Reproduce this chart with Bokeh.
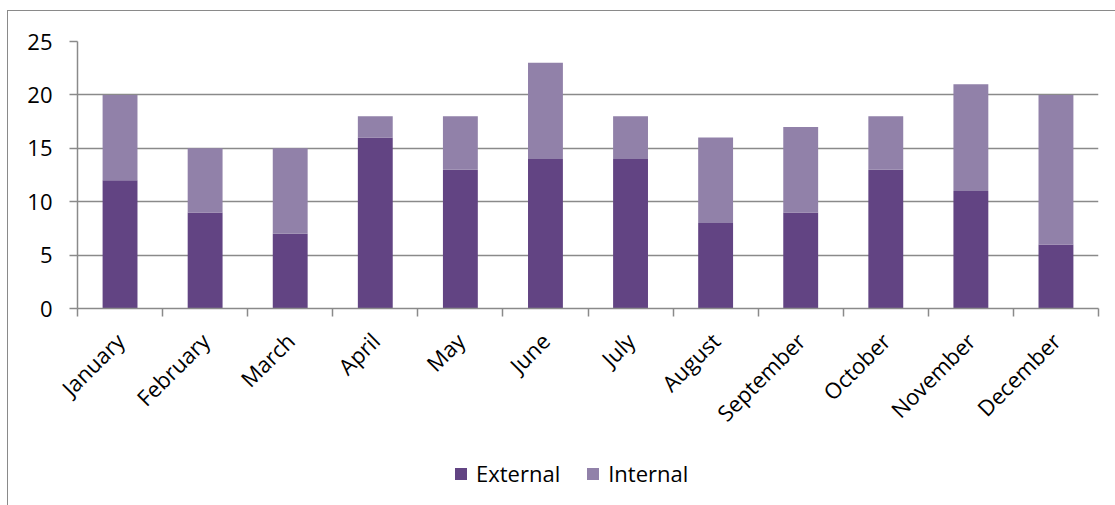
from bokeh.plotting import figure
from bokeh.models import ColumnDataSource, Range1d, FixedTicker, Legend, LegendItem
from bokeh.layouts import column
from bokeh.embed import file_html
from bokeh.resources import INLINE
import math

months = ["January", "February", "March", "April", "May", "June", "July",
          "August", "September", "October", "November", "December"]
external = [12, 9, 7, 16, 13, 14, 14, 8, 9, 13, 11, 6]
internal = [8, 6, 8, 2, 5, 9, 4, 8, 8, 5, 10, 14]
y_ticks = [0, 5, 10, 15, 20, 25]
series = ["External", "Internal"]
colors = ["#624483", "#9181a9"]

xs = list(range(len(months)))
int_top = [e + i for e, i in zip(external, internal)]

src = ColumnDataSource(dict(x=xs, ext_bot=[0] * len(xs), ext_top=external,
                            int_bot=external, int_top=int_top))

GRID = "#8a8a8a"
FONT = "Open Sans"
FS = "22px"
BORDER = "1.5px solid #8a8a8a"

p = figure(width=1108, height=435, output_backend="svg", toolbar_location=None,
           x_range=Range1d(-0.5, len(months) - 0.5), y_range=Range1d(0, 25),
           min_border_left=69, min_border_top=30, min_border_right=18, min_border_bottom=138)

p.outline_line_color = None
p.background_fill_color = "white"
p.border_fill_color = "white"

r1 = p.vbar(x="x", bottom="ext_bot", top="ext_top", width=0.41, source=src,
            fill_color=colors[0], line_color=None)
r2 = p.vbar(x="x", bottom="int_bot", top="int_top", width=0.41, source=src,
            fill_color=colors[1], line_color=None)

# y axis
p.yaxis.ticker = FixedTicker(ticks=y_ticks)
p.yaxis.axis_line_color = GRID
p.yaxis.axis_line_width = 1.5
p.yaxis.major_tick_line_color = GRID
p.yaxis.major_tick_line_width = 1.5
p.yaxis.major_tick_out = 8
p.yaxis.major_tick_in = 0
p.yaxis.minor_tick_line_color = None
p.yaxis.major_label_standoff = 17
p.yaxis.major_label_text_font = FONT
p.yaxis.major_label_text_font_size = FS
p.yaxis.major_label_text_color = "black"

# x axis
p.xaxis.ticker = FixedTicker(ticks=xs, minor_ticks=[i - 0.5 for i in range(len(months) + 1)])
p.xaxis.major_label_overrides = {i: m for i, m in enumerate(months)}
p.xaxis.axis_line_color = GRID
p.xaxis.axis_line_width = 1.5
p.xaxis.major_tick_line_color = None
p.xaxis.minor_tick_line_color = GRID
p.xaxis.minor_tick_line_width = 1.5
p.xaxis.minor_tick_out = 8
p.xaxis.minor_tick_in = 0
p.xaxis.major_label_orientation = math.pi / 4
p.xaxis.major_label_standoff = 20
p.xaxis.major_label_text_font = FONT
p.xaxis.major_label_text_font_size = FS
p.xaxis.major_label_text_color = "black"

p.xgrid.grid_line_color = None
p.ygrid.ticker = FixedTicker(ticks=y_ticks)
p.ygrid.grid_line_color = GRID
p.ygrid.grid_line_width = 1.5

# legend strip (its renderers are hidden; only their legend swatches are shown)
q = figure(width=1108, height=60, output_backend="svg", toolbar_location=None,
           x_range=Range1d(-0.5, len(months) - 0.5), y_range=Range1d(0, 25),
           x_axis_location=None, y_axis_location=None,
           min_border_left=0, min_border_right=0, min_border_top=0, min_border_bottom=0)
q.outline_line_color = None
q.grid.visible = False
q.border_fill_color = "white"

l1 = q.vbar(x="x", bottom="ext_bot", top="ext_top", width=0.41, source=src,
            fill_color=colors[0], line_color=None, visible=False)
l2 = q.vbar(x="x", bottom="int_bot", top="int_top", width=0.41, source=src,
            fill_color=colors[1], line_color=None, visible=False)

legend = Legend(items=[LegendItem(label=s, renderers=[r]) for s, r in zip(series, [l1, l2])],
                orientation="horizontal", location=(376, 18))
legend.label_text_font = FONT
legend.label_text_font_size = FS
legend.label_text_color = "black"
legend.glyph_width = 15
legend.glyph_height = 15
legend.label_standoff = 8
legend.spacing = 25
legend.border_line_color = None
legend.background_fill_alpha = 0
legend.inactive_fill_alpha = 0
legend.padding = 0
legend.margin = 0
q.add_layout(legend, "center")

layout = column(p, q, spacing=0)
layout.margin = (10, 0, 0, 7)
layout.styles = {"border-left": BORDER, "border-top": BORDER}
open("out.html", "w").write(file_html(layout, INLINE))
